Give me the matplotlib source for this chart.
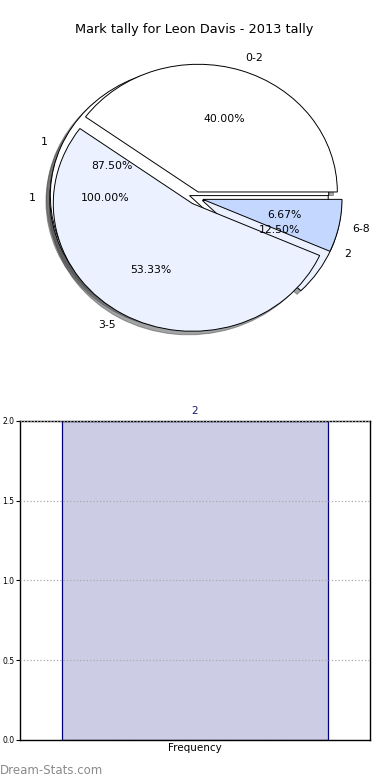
import matplotlib.pyplot as plt

title = 'Mark tally for Leon Davis - 2013 tally'
range_labels = ['0-2', '3-5', '6-8']
range_counts = [6, 8, 1]
mark_labels = ['1', '2']
mark_counts = [7, 1]
single_labels = ['1']
single_counts = [1]
bar_labels = ['Frequency']
bar_values = [2]

colors = ['#ffffff', '#ebf1ff', '#c4d8ff']

fig = plt.figure(figsize=(3.9, 7.8), dpi=100)

# pie part: three pies drawn on the same axes
ax = fig.add_axes([0.0385, 0.5333, 0.928, 0.4256])
for counts, labels in [(single_counts, single_labels),
                       (mark_counts, mark_labels),
                       (range_counts, range_labels)]:
    ax.pie(counts, labels=labels, autopct='%1.2f%%',
           explode=[0.05] * len(counts), shadow=True,
           colors=colors[:len(counts)],
           wedgeprops={'linewidth': 0.7, 'edgecolor': 'black'},
           textprops={'fontsize': 7.8})
ax.set_aspect('auto')
ax.set_xlim(-1.3, 1.3)
ax.set_ylim(-1.3, 1.3)
fig.text(194 / 390, 1 - 30 / 780, title, ha='center', va='center', fontsize=9.3)

# bar part
ax2 = fig.add_axes([0.0513, 0.0513, 0.897, 0.409])
bars = ax2.bar(range(len(bar_values)), bar_values, width=0.76,
               color='#ccccE4', edgecolor='navy', linewidth=0.9)
for b, v in zip(bars, bar_values):
    ax2.text(b.get_x() + b.get_width() / 2, v + 0.03, str(v),
             ha='center', va='bottom', fontsize=7.5, color='#191970')
ax2.set_xlim(-0.5, 0.5)
ax2.set_ylim(0, 2)
ax2.set_yticks([0, 0.5, 1.0, 1.5, 2.0])
ax2.set_xticks([])
ax2.set_xlabel(bar_labels[0], fontsize=7.5, labelpad=2)
ax2.tick_params(axis='y', labelsize=5.5, length=3, pad=1)
ax2.yaxis.grid(True, linestyle=':', color='#aaaaaa', linewidth=0.9)
ax2.set_axisbelow(False)
for s in ax2.spines.values():
    s.set_linewidth(1.0)

fig.text(0.0, 1 - 770 / 780, 'Dream-Stats.com', ha='left', va='center',
         fontsize=8.5, color='#8a8a8a')

fig.savefig('out.png', dpi=100)
